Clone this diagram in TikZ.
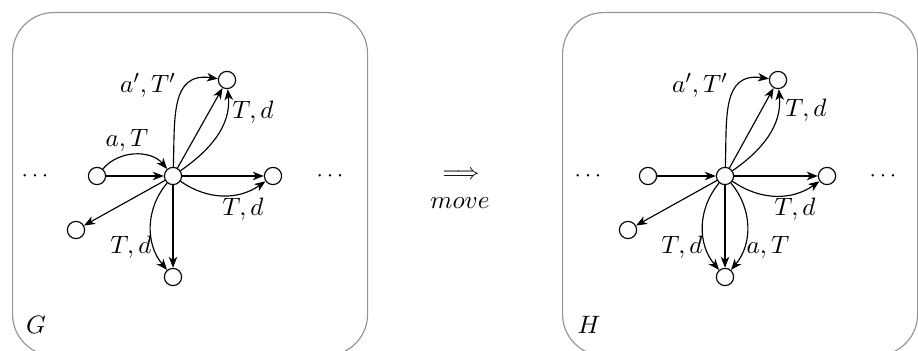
\documentclass[tikz,border=0pt]{standalone}
\usetikzlibrary{arrows.meta}
\begin{document}
\begin{tikzpicture}[x=0.0153cm,y=0.0153cm,
  vtx/.style={circle,draw,line width=0.5pt,minimum size=7.5pt,inner sep=0pt,fill=white},
  edge/.style={line width=0.5pt,-{Stealth[length=4.8pt,width=3.7pt,inset=1.4pt]}},
  frame/.style={draw=black!42,line width=0.5pt,rounded corners=0.63cm},
  lbl/.style={font=\fontsize{11.2}{13}\selectfont}]
\useasboundingbox (0,0) rectangle (918,351);
\clip (0,0) rectangle (918,351);
% frames
\node[frame,minimum width=355*0.0153cm,minimum height=343*0.0153cm,anchor=north west,inner sep=0pt] (fG) at (12,339) {};
\node[frame,minimum width=355*0.0153cm,minimum height=343*0.0153cm,anchor=north west,inner sep=0pt] (fH) at (562,339) {};
% G
\node[vtx] (gc) at (173,175) {};
\node[vtx] (gl) at (97,175) {};
\node[vtx] (gr) at (273,175) {};
\node[vtx] (gt) at (227,271) {};
\node[vtx] (gll) at (76,121) {};
\node[vtx] (gb) at (173,74) {};
\node (gdl) at (35,175) {$\cdots$};
\node (gdr) at (330,175) {$\cdots$};
\node[lbl] (gname) at (36,26) {$G$};
\draw[edge] (gl) -- (gc);
\draw[edge] (gl) to[bend left=50] (gc);
\node[lbl] (lat) at (127,211) {$a,T$};
\draw[edge] (gc) -- (gt);
\draw[edge] (gc) to[out=88,in=172,looseness=1.25] (gt);
\node[lbl] (lapt) at (148,266) {$a',T'$};
\draw[edge] (gc) to[out=35,in=-85] (gt);
\node[lbl] (ltd1) at (253,239) {$T,d$};
\draw[edge] (gc) -- (gr);
\draw[edge] (gc) to[bend right=35] (gr);
\node[lbl] (ltd2) at (243,142) {$T,d$};
\draw[edge] (gc) -- (gll);
\draw[edge] (gc) -- (gb);
\draw[edge] (gc) to[bend right=40] (gb);
\node[lbl] (ltd3) at (131,104) {$T,d$};
% middle
\node[inner sep=0pt] (imp) at (461,176) {$\Longrightarrow$};
\node[inner sep=0pt,font=\fontsize{10.8}{12}\selectfont] (mv) at (460,148) {$move$};
% H
\node[vtx] (hc) at (725,175) {};
\node[vtx] (hl) at (648,175) {};
\node[vtx] (hr) at (827,175) {};
\node[vtx] (ht) at (778,271) {};
\node[vtx] (hll) at (628,121) {};
\node[vtx] (hb) at (725,74) {};
\node (hdl) at (588,175) {$\cdots$};
\node (hdr) at (883,175) {$\cdots$};
\node[lbl] (hname) at (589,26) {$H$};
\draw[edge] (hl) -- (hc);
\draw[edge] (hc) -- (ht);
\draw[edge] (hc) to[out=88,in=172,looseness=1.25] (ht);
\node[lbl] (hlapt) at (700,266) {$a',T'$};
\draw[edge] (hc) to[out=35,in=-85] (ht);
\node[lbl] (hltd1) at (806,241) {$T,d$};
\draw[edge] (hc) -- (hr);
\draw[edge] (hc) to[bend right=35] (hr);
\node[lbl] (hltd2) at (795,142) {$T,d$};
\draw[edge] (hc) -- (hll);
\draw[edge] (hc) -- (hb);
\draw[edge] (hc) to[bend right=40] (hb);
\node[lbl] (hltd3) at (682,104) {$T,d$};
\draw[edge] (hc) to[bend left=40] (hb);
\node[lbl] (hlat) at (768,104) {$a,T$};
\end{tikzpicture}
\end{document}
